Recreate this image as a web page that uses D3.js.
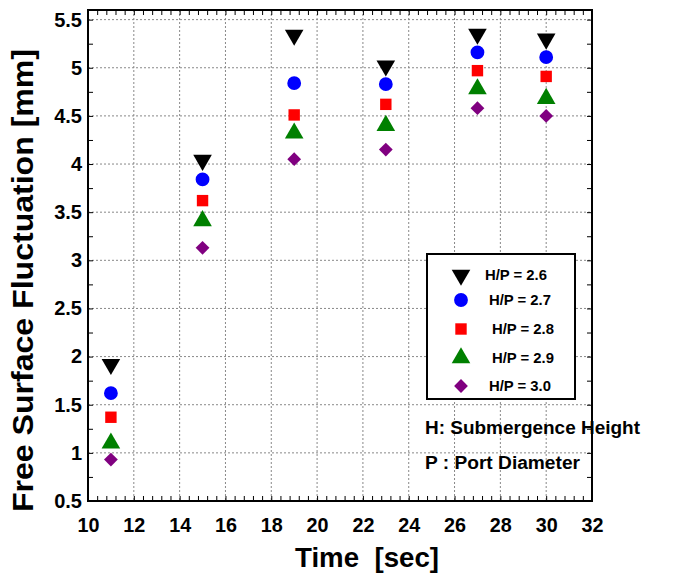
<!DOCTYPE html>
<html><head><meta charset="utf-8">
<script src="https://cdn.jsdelivr.net/npm/d3@7"></script>
<style>body{margin:0;background:#fff}svg{display:block}text{font-family:"Liberation Sans",Arial,sans-serif;font-weight:bold}</style>
</head><body><svg id="c" width="675" height="577"></svg>
<script>
const times = [11, 15, 19, 23, 27, 30];
const seriesNames = ["H/P = 2.6", "H/P = 2.7", "H/P = 2.8", "H/P = 2.9", "H/P = 3.0"];
const hp26 = [1.92, 4.04, 5.34, 5.02, 5.35, 5.30];
const hp27 = [1.62, 3.84, 4.84, 4.83, 5.16, 5.11];
const hp28 = [1.37, 3.62, 4.51, 4.62, 4.97, 4.91];
const hp29 = [1.10, 3.41, 4.32, 4.40, 4.78, 4.68];
const hp30 = [0.93, 3.13, 4.05, 4.15, 4.58, 4.50];
const xTicks = [10, 12, 14, 16, 18, 20, 22, 24, 26, 28, 30, 32];
const yTicks = [0.5, 1, 1.5, 2, 2.5, 3, 3.5, 4, 4.5, 5, 5.5];
const yTickLabels = ["0.5","1","1.5","2","2.5","3","3.5","4","4.5","5","5.5"];

const svg = d3.select("#c");
const L = 88, R = 592, T = 10, B = 501;
const x = d3.scaleLinear().domain([10, 32]).range([L, R]);
const y = d3.scaleLinear().domain([0.5, 5.6]).range([B, T]);

// grid
const g = svg.append("g");
g.selectAll(".gx").data(xTicks.slice(1, -1)).join("line")
  .attr("x1", d => x(d)).attr("x2", d => x(d)).attr("y1", T).attr("y2", B)
  .attr("stroke", "#888").attr("stroke-width", 1).attr("stroke-dasharray", "2,2");
g.selectAll(".gy").data(yTicks.slice(1)).join("line")
  .attr("x1", L).attr("x2", R).attr("y1", d => y(d)).attr("y2", d => y(d))
  .attr("stroke", "#888").attr("stroke-width", 1).attr("stroke-dasharray", "2,2");

// axes with inward ticks
const minorX = d3.range(10, 32.001, 0.4);
const minorY = d3.range(0.5, 5.6, 0.25);
svg.append("g").attr("transform", `translate(0,${B})`)
  .call(d3.axisBottom(x).tickValues(minorX).tickSize(-5).tickFormat(""))
  .call(a => a.select(".domain").remove());
svg.append("g").attr("transform", `translate(0,${T})`)
  .call(d3.axisTop(x).tickValues(minorX).tickSize(-5).tickFormat(""))
  .call(a => a.select(".domain").remove());
svg.append("g").attr("transform", `translate(${L},0)`)
  .call(d3.axisLeft(y).tickValues(minorY).tickSize(-5).tickFormat(""))
  .call(a => a.select(".domain").remove());
svg.append("g").attr("transform", `translate(${R},0)`)
  .call(d3.axisRight(y).tickValues(minorY).tickSize(-5).tickFormat(""))
  .call(a => a.select(".domain").remove());

// tick labels
svg.append("g").attr("transform", `translate(0,${B})`)
  .call(d3.axisBottom(x).tickValues(xTicks).tickSize(0).tickPadding(16).tickFormat(d3.format("d")))
  .call(a => { a.select(".domain").remove(); a.selectAll("text").attr("font-size", 21).attr("fill", "#000")
    .attr("textLength", 22).attr("lengthAdjust", "spacingAndGlyphs"); });
svg.append("g").attr("transform", `translate(${L},0)`)
  .call(d3.axisLeft(y).tickValues(yTicks).tickSize(0).tickPadding(6).tickFormat((d, i) => yTickLabels[i]))
  .call(a => { a.select(".domain").remove(); a.selectAll("text").attr("font-size", 20).attr("fill", "#000"); });

// frame
svg.append("rect").attr("x", L).attr("y", T).attr("width", R - L).attr("height", B - T)
  .attr("fill", "none").attr("stroke", "#000").attr("stroke-width", 2);

// series
const series = [
  {name: seriesNames[0], vals: hp26, color: "#000000", sym: d3.symbolTriangle, size: 150, rot: 180},
  {name: seriesNames[1], vals: hp27, color: "#0000ff", sym: d3.symbolCircle, size: 150, rot: 0},
  {name: seriesNames[2], vals: hp28, color: "#ff0000", sym: d3.symbolSquare, size: 130, rot: 0},
  {name: seriesNames[3], vals: hp29, color: "#008000", sym: d3.symbolTriangle, size: 150, rot: 0},
  {name: seriesNames[4], vals: hp30, color: "#800080", sym: d3.symbolSquare, size: 95, rot: 45},
];
series.forEach(s => {
  svg.append("g").selectAll("path").data(s.vals).join("path")
    .attr("d", d3.symbol().type(s.sym).size(s.size))
    .attr("transform", (d, i) => `translate(${x(times[i])},${y(d)}) rotate(${s.rot})`)
    .attr("fill", s.color);
});

// legend
const lg = svg.append("g");
lg.append("rect").attr("x", 427).attr("y", 254).attr("width", 148).attr("height", 145)
  .attr("fill", "#fff").attr("stroke", "#000").attr("stroke-width", 2);
const rowY = [275, 300, 329, 358, 386];
const textX = [485, 489, 492, 492, 489];
series.forEach((s, i) => {
  lg.append("path").attr("d", d3.symbol().type(s.sym).size(s.size))
    .attr("transform", `translate(461,${rowY[i]}) rotate(${s.rot})`).attr("fill", s.color);
  lg.append("text").attr("x", textX[i]).attr("y", rowY[i] + 5).attr("font-size", 15)
    .attr("textLength", 62).attr("lengthAdjust", "spacingAndGlyphs").text(s.name);
});

// annotations
svg.append("text").attr("x", 425).attr("y", 434).attr("font-size", 18)
  .attr("textLength", 215).attr("lengthAdjust", "spacingAndGlyphs").text("H: Submergence Height");
svg.append("text").attr("x", 425).attr("y", 469).attr("font-size", 18)
  .attr("textLength", 155).attr("lengthAdjust", "spacingAndGlyphs").text("P : Port Diameter");

// titles
svg.append("text").attr("x", 295).attr("y", 567).attr("font-size", 28).style("white-space", "pre")
  .attr("textLength", 144).attr("lengthAdjust", "spacingAndGlyphs").text("Time  [sec]");
svg.append("text").attr("transform", "translate(33,512) rotate(-90)").attr("font-size", 30)
  .attr("textLength", 463).attr("lengthAdjust", "spacingAndGlyphs").text("Free Surface Fluctuation [mm]");
</script></body></html>
